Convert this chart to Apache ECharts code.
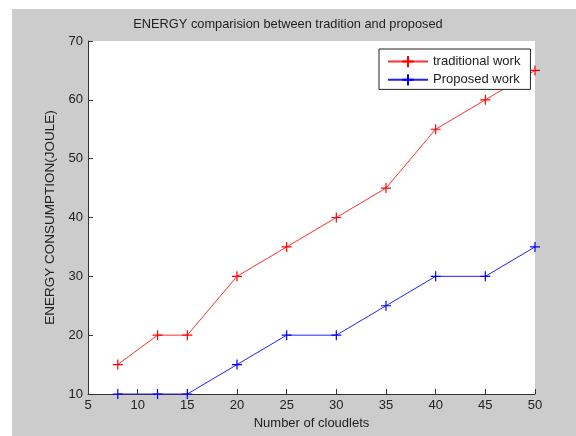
<!DOCTYPE html>
<html><head><meta charset="utf-8">
<script src="https://cdn.jsdelivr.net/npm/echarts@6/dist/echarts.min.js"></script>
<style>html,body{margin:0;padding:0;background:#fff}#c{width:576px;height:436px}</style>
</head><body><div id="c"></div>
<script>
const cloudlets = [8, 12, 15, 20, 25, 30, 35, 40, 45, 50];
const traditional = [15, 20, 20, 30, 35, 40, 45, 55, 60, 65];
const proposed = [10, 10, 10, 15, 20, 20, 25, 30, 30, 35];
const plus = 'path://M0,5L10,5M5,0L5,10';
const font = 'Liberation Sans, Arial, sans-serif';
const chart = echarts.init(document.getElementById('c'));
chart.setOption({
  animation: false,
  backgroundColor: '#fff',
  graphic: [{type:'rect', z:-10, silent:true, shape:{x:12,y:9,width:564,height:427}, style:{fill:'#cccccc'}}],
  title: {text:'ENERGY comparision between tradition and proposed', left:'center', top:13,
    textStyle:{fontFamily:font, fontSize:12.8, fontWeight:'normal', color:'#222'}},
  grid: {left:88, right:41, top:41, bottom:42, show:true, backgroundColor:'#fff', borderWidth:0},
  legend: {left:379, top:49, width:150, orient:'vertical', backgroundColor:'#fff', borderColor:'#222', borderWidth:1,
    padding:[6,10,3,8], itemGap:5, itemWidth:40, itemHeight:14,
    textStyle:{fontFamily:font, fontSize:13, color:'#222'},
    data:['traditional work','Proposed work']},
  xAxis: {type:'value', min:5, max:50, interval:5, name:'Number of cloudlets', nameLocation:'middle', nameGap:23,
    nameTextStyle:{fontFamily:font, fontSize:13, color:'#222'},
    axisLine:{lineStyle:{color:'#333'}}, axisTick:{inside:true, length:5, lineStyle:{color:'#333'}},
    axisLabel:{fontFamily:font, fontSize:13, color:'#222', margin:5}, splitLine:{show:false}},
  yAxis: {type:'value', min:10, max:70, interval:10, name:'ENERGY CONSUMPTION(JOULE)', nameLocation:'middle', nameGap:31,
    nameTextStyle:{fontFamily:font, fontSize:13.5, color:'#222'},
    axisLine:{show:true, lineStyle:{color:'#333'}}, axisTick:{show:true, inside:true, length:5, lineStyle:{color:'#333'}},
    axisLabel:{fontFamily:font, fontSize:13, color:'#222', margin:5}, splitLine:{show:false}},
  series: [
    {name:'traditional work', type:'line', data:cloudlets.map((x,i)=>[x,traditional[i]]),
      symbol:plus, symbolSize:10, showAllSymbol:true,
      lineStyle:{color:'#ff3030', width:1}, itemStyle:{color:'#ff0000', borderColor:'#ff0000', borderWidth:1.2}},
    {name:'Proposed work', type:'line', data:cloudlets.map((x,i)=>[x,proposed[i]]),
      symbol:plus, symbolSize:10, showAllSymbol:true,
      lineStyle:{color:'#2020ff', width:1}, itemStyle:{color:'#0000ff', borderColor:'#0000ff', borderWidth:1.2}}
  ]
});
</script></body></html>
